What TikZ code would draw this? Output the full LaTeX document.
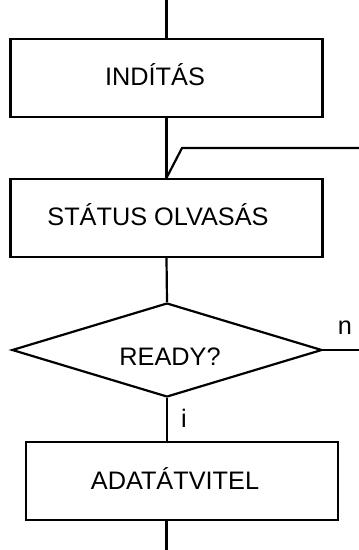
\documentclass[tikz,border=0pt]{standalone}
\usepackage{fontspec}
\setmainfont{Liberation Sans}
\usetikzlibrary{shapes.geometric}
\begin{document}
\begin{tikzpicture}[x=1pt,y=-1pt,
  flow/.style={draw, line width=2.2pt},
  stepbox/.style={draw, rectangle, line width=2.2pt, minimum width=312pt, minimum height=78pt, inner sep=0pt},
  decbox/.style={draw, diamond, line width=2.2pt, minimum width=310pt, minimum height=94pt, inner sep=0pt},
  lbl/.style={inner sep=0pt, anchor=base, font=\fontsize{25.3}{30}\selectfont}]
\useasboundingbox (0,0) rectangle (359,550);
\coordinate (top) at (166.5,0);
\coordinate (bot) at (166.5,550);
\node[stepbox] (start) at (166.5,78) {};
\node[lbl] (starttext) at (155,85) {INDÍTÁS};
\node[stepbox] (status) at (166.5,218) {};
\node[lbl] (statustext) at (158,225) {STÁTUS OLVASÁS};
\node[decbox] (dec) at (167,350) {};
\node[lbl] (dectext) at (170,365) {READY?};
\node[stepbox] (data) at (182,481) {};
\node[lbl] (datatext) at (175,489) {ADATÁTVITEL};
\coordinate (fb) at (182,148);
\coordinate (fbend) at (359,148);
\coordinate (nend) at (359,350);
\node[lbl] (nlab) at (345,334) {n};
\node[lbl] (ilab) at (184,427) {i};
\draw[flow] (top) -- (start.north);
\draw[flow] (start.south) -- (status.north);
\draw[flow] (fbend) -- (fb) -- (status.north);
\draw[flow] (status.south) -- (dec.north);
\draw[flow] (dec.east) -- (nend);
\draw[flow] (dec.south) -- (dec.south |- data.north);
\draw[flow] (data.south -| bot) -- (bot);
\end{tikzpicture}
\end{document}
